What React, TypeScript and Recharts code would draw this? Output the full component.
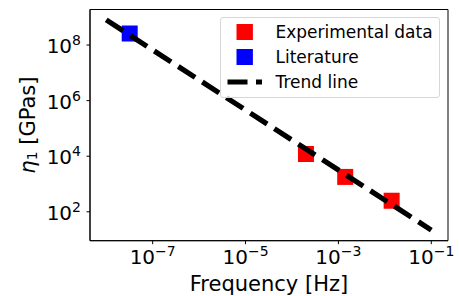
import React from "react";
import { ScatterChart, Scatter, XAxis, YAxis, Legend, ReferenceArea } from "recharts";

// values (log-log)
const expFreq = [2e-4, 1.4e-3, 1.4e-2];
const expEta = [1.2e4, 1.8e3, 2.5e2];
const litFreq = [3.2e-8];
const litEta = [2.6e8];
const trendFreq = [1e-8, 1e-1];
const trendEta = [8e8, 22];

const xTicks = [1e-7, 1e-5, 1e-3, 1e-1];
const yTicks = [1e2, 1e4, 1e6, 1e8];
const xDomain = [4.47e-9, 0.229];
const yDomain = [9.12, 1.9e9];

const FONT = "DejaVu Sans";

const toPoints = (xs: number[], ys: number[]) => xs.map((x, i) => ({ x, y: ys[i] }));

const expData = toPoints(expFreq, expEta);
const litData = toPoints(litFreq, litEta);
const trendData = toPoints(trendFreq, trendEta);

const legendRows = [
  { name: "Experimental data", kind: "square", color: "#ff0000" },
  { name: "Literature", kind: "square", color: "#0000ff" },
  { name: "Trend line", kind: "line", color: "#000000" },
];

function expLabel(v: number) {
  const e = Math.round(Math.log10(v));
  return e < 0 ? "\u2212" + Math.abs(e) : String(e);
}

function XTick(props: any) {
  const { x, y, payload } = props;
  return (
    <text x={x} y={y + 18} textAnchor="middle" fontFamily={FONT} fontSize={20} fill="#000">
      <tspan>10</tspan>
      <tspan dy={-8.5} fontSize={14}>{expLabel(payload.value)}</tspan>
    </text>
  );
}

function YTick(props: any) {
  const { x, y, payload } = props;
  return (
    <text x={x} y={y + 8} textAnchor="end" fontFamily={FONT} fontSize={20} fill="#000">
      <tspan>10</tspan>
      <tspan dy={-8} fontSize={14}>{expLabel(payload.value)}</tspan>
    </text>
  );
}

function YLabel(props: any) {
  const { viewBox } = props;
  const cx = 28;
  const cy = viewBox.y + viewBox.height / 2;
  return (
    <text
      x={cx}
      y={cy}
      transform={`rotate(-90, ${cx}, ${cy})`}
      textAnchor="middle"
      dominantBaseline="central"
      fontFamily={FONT}
      fontSize={21}
      fill="#000"
    >
      <tspan fontStyle="italic">η</tspan>
      <tspan fontSize={14} dy={4}>1</tspan>
      <tspan dy={-4}> [GPas]</tspan>
    </text>
  );
}

const square = (color: string) => (props: any) => (
  <rect x={props.cx - 8} y={props.cy - 8} width={16} height={16} fill={color} />
);

function LegendBox() {
  return (
    <div
      style={{
        position: "relative",
        width: 220,
        height: 81,
        boxSizing: "border-box",
        border: "1px solid #d6d6d6",
        borderRadius: 3,
        background: "rgba(255,255,255,0.8)",
        fontFamily: FONT,
        fontSize: 17,
        color: "#000",
      }}
    >
      {legendRows.map((r, i) => {
        const cy = 14.5 + i * 25.2;
        return (
          <div key={r.name}>
            <svg
              width={50}
              height={20}
              style={{ position: "absolute", left: 0, top: cy - 10 }}
            >
              {r.kind === "square" ? (
                <rect x={15.5} y={2} width={16.4} height={16} fill={r.color} />
              ) : (
                <line
                  x1={6.5}
                  y1={10}
                  x2={41}
                  y2={10}
                  stroke={r.color}
                  strokeWidth={5}
                  strokeDasharray="20 8.5"
                />
              )}
            </svg>
            <div
              style={{
                position: "absolute",
                left: 55,
                top: cy - 10,
                height: 20,
                lineHeight: "20px",
                whiteSpace: "nowrap",
              }}
            >
              {r.name}
            </div>
          </div>
        );
      })}
    </div>
  );
}

export default function App() {
  return (
    <div style={{ position: "absolute", left: 0, top: 0, background: "#fff" }}>
      <ScatterChart width={459} height={296} margin={{ top: 9.5, right: 11, left: 0, bottom: 0 }}>
        <XAxis
          type="number"
          dataKey="x"
          scale="log"
          domain={xDomain}
          allowDataOverflow
          ticks={xTicks}
          interval={0}
          height={55.3}
          tick={<XTick />}
          tickSize={3.5}
          tickMargin={2}
          axisLine={{ stroke: "#000" }}
          tickLine={{ stroke: "#000" }}
          label={{
            value: "Frequency [Hz]",
            position: "insideBottom",
            offset: 5,
            fontFamily: FONT,
            fontSize: 21,
            fill: "#000",
          }}
        />
        <YAxis
          type="number"
          dataKey="y"
          scale="log"
          domain={yDomain}
          allowDataOverflow
          ticks={yTicks}
          interval={0}
          width={90}
          tick={<YTick />}
          tickSize={3.5}
          tickMargin={5.5}
          axisLine={{ stroke: "#000" }}
          tickLine={{ stroke: "#000" }}
          label={<YLabel />}
        />
        {/* plot frame */}
        <ReferenceArea
          x1={xDomain[0]}
          x2={xDomain[1]}
          y1={yDomain[0]}
          y2={yDomain[1]}
          fill="none"
          stroke="#000"
          strokeWidth={1}
          ifOverflow="visible"
        />
        <Scatter
          name="Experimental data"
          data={expData}
          shape={square("#ff0000")}
          isAnimationActive={false}
        />
        <Scatter
          name="Literature"
          data={litData}
          shape={square("#0000ff")}
          isAnimationActive={false}
        />
        <Scatter
          name="Trend line"
          data={trendData}
          shape={() => <g />}
          line={{ stroke: "#000", strokeWidth: 5.2, strokeDasharray: "20 8.6" }}
          isAnimationActive={false}
        />
        <Legend
          layout="horizontal"
          align="center"
          verticalAlign="middle"
          content={<LegendBox />}
          wrapperStyle={{ left: 219.5, top: 16.5, width: 220, height: 81 }}
        />
      </ScatterChart>
    </div>
  );
}
